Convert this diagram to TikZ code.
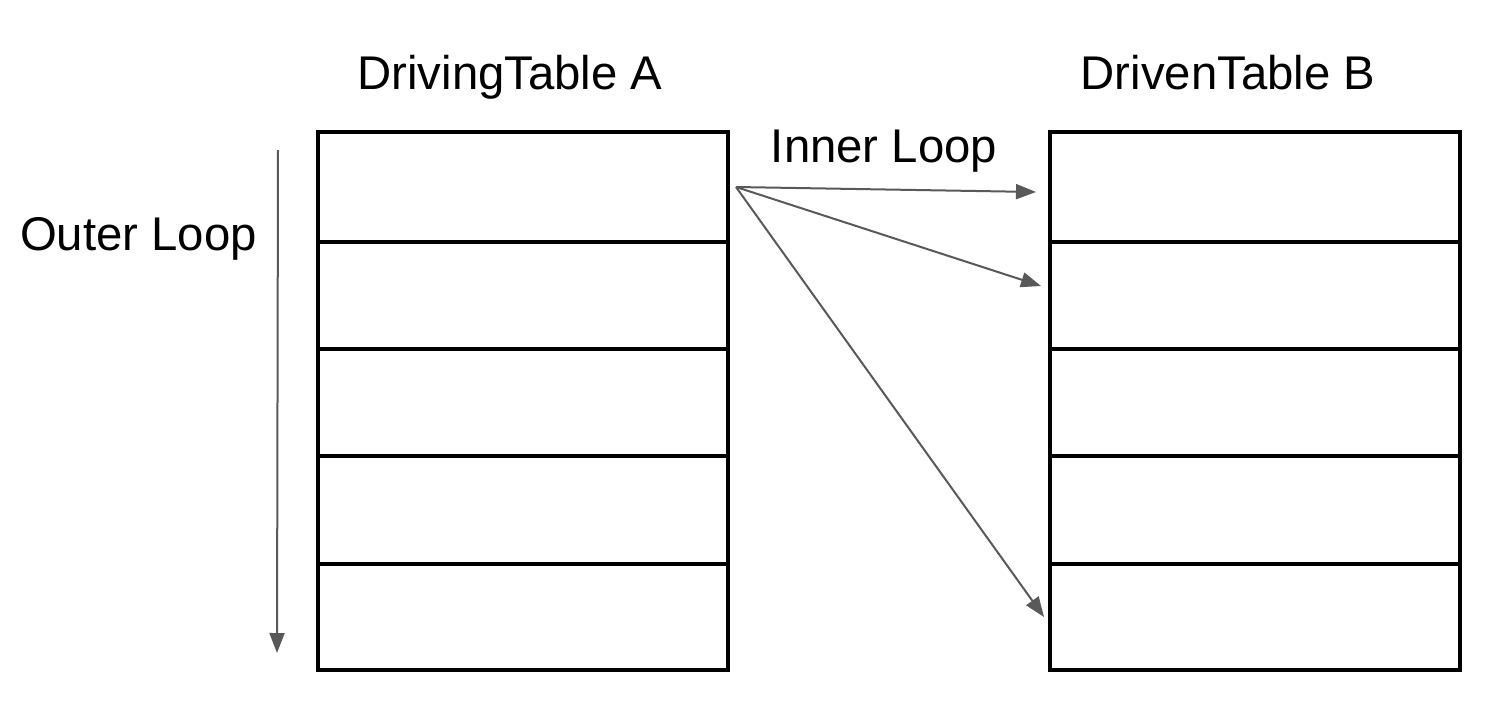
\documentclass[tikz,border=0pt]{standalone}
\usepackage{fontspec}
\setmainfont{Liberation Sans}
\usetikzlibrary{arrows.meta}
\definecolor{arrgray}{HTML}{595959}
\begin{document}
\begin{tikzpicture}[x=1pt,y=-1pt,
  cell/.style={draw=black,line width=4pt,minimum width=409.5pt,inner sep=0pt,outer sep=0pt,anchor=north west},
  lbl/.style={font=\fontsize{47.3}{50}\selectfont,inner sep=0pt,anchor=base},
  arr/.style={draw=arrgray,line width=2pt,-{Triangle[length=20pt,width=15pt]}}]
\useasboundingbox (0,0) rectangle (1500,702);
% Tables A and B
\foreach \i/\y/\h in {1/132/110,2/242/107,3/349/107,4/456/108,5/564/106}{
  \node[cell,minimum height=\h pt] (a\i) at (318,\y) {};
  \node[cell,minimum height=\h pt] (b\i) at (1050,\y) {};
}
\node[lbl] (ta) at (510,89) {DrivingTable A};
\node[lbl] (tb) at (1228,89) {DrivenTable B};
\node[lbl] (outer) at (138.5,250) {Outer Loop};
\node[lbl] (inner) at (884,162) {Inner Loop};
\coordinate (otop) at (278,150);
\coordinate (obot) at (277,653);
\draw[arr] (otop) -- (obot);
\coordinate (src) at (736,187);
\coordinate (e1) at (1036,192);
\coordinate (e2) at (1041,286);
\coordinate (e3) at (1044,617);
\draw[arr] (src) -- (e1);
\draw[arr] (src) -- (e2);
\draw[arr] (src) -- (e3);
\end{tikzpicture}
\end{document}
